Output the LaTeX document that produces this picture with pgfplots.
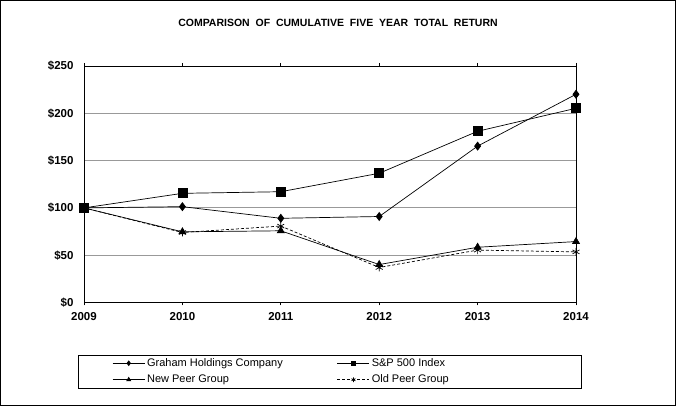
\documentclass[border=0pt]{standalone}
\usepackage{pgfplots}
\pgfplotsset{compat=1.18}
\usepackage{fontspec}
\setmainfont{Liberation Sans}
\begin{document}
\begin{tikzpicture}[x=1pt,y=1pt]
\draw[black, line width=1pt] (0.5,0.5) rectangle (675.5,405.5);
\node[font=\bfseries\fontsize{10.5}{12}\selectfont] at (338,383.5) {COMPARISON\ \ OF\ \ CUMULATIVE\ \ FIVE\ \ YEAR\ \ TOTAL\ \ RETURN};
\begin{axis}[
  at={(84pt,103.5pt)}, anchor=south west,
  scale only axis, width=492pt, height=236.5pt,
  xmin=2009, xmax=2014, ymin=0, ymax=250,
  xtick={2009,2010,2011,2012,2013,2014},
  ytick={0,50,100,150,200,250},
  ymajorgrids,
  major grid style={draw=gray!80, line width=0.8pt},
  axis line style={black, line width=0.9pt},
  xtick style={draw=black, line width=0.8pt},
  ytick style={draw=none},
  xtick align=outside, major tick length=3pt,
  /pgf/number format/assume math mode=true,
  ticklabel style={font=\bfseries\fontsize{11.5}{13}\selectfont},
  xticklabel={\pgfmathprintnumber[1000 sep={}]{\tick}},
  yticklabel={\$\pgfmathprintnumber{\tick}},
  yticklabel style={xshift=-7pt},
  xticklabel style={yshift=-3pt},
  legend columns=2,
  legend style={at={(-0.0122,-0.2918)}, anchor=west, draw=black, line width=0.8pt,
    font=\fontsize{11}{13}\selectfont, inner xsep=34pt, inner ysep=1.5pt,
    /tikz/every even column/.append style={column sep=5pt},
    row sep=3pt},
  legend cell align=left,
  legend image code/.code={
    \draw[mark repeat=2,mark phase=2,mark size=2.3pt] plot coordinates {(0pt,0pt)(16pt,0pt)(32pt,0pt)};},
  every axis plot/.append style={black, line width=0.7pt},
]
\addplot[mark=diamond*, mark size=4pt, mark options={solid}] coordinates {
(2009,100) (2010,101.3) (2011,89) (2012,90.9) (2013,165.3) (2014,220.1)};
\addlegendentry{\makebox[183pt][l]{Graham Holdings Company}}
\addplot[mark=square*, mark size=4.5pt, mark options={solid}] coordinates {
(2009,100) (2010,115.4) (2011,117.1) (2012,136.6) (2013,181) (2014,205.3)};
\addlegendentry{\makebox[174pt][l]{S\&P 500 Index}}
\addplot[mark=triangle*, mark size=4pt, mark options={solid}] coordinates {
(2009,100) (2010,74.7) (2011,75.8) (2012,40.1) (2013,58.4) (2014,64.4)};
\addlegendentry{\makebox[183pt][l]{New Peer Group}}
\addplot[densely dashed, mark=asterisk, mark size=4pt, mark options={solid}] coordinates {
(2009,100) (2010,74) (2011,80.8) (2012,37) (2013,55.4) (2014,53.5)};
\addlegendentry{\makebox[174pt][l]{Old Peer Group}}
\end{axis}
\end{tikzpicture}
\end{document}
